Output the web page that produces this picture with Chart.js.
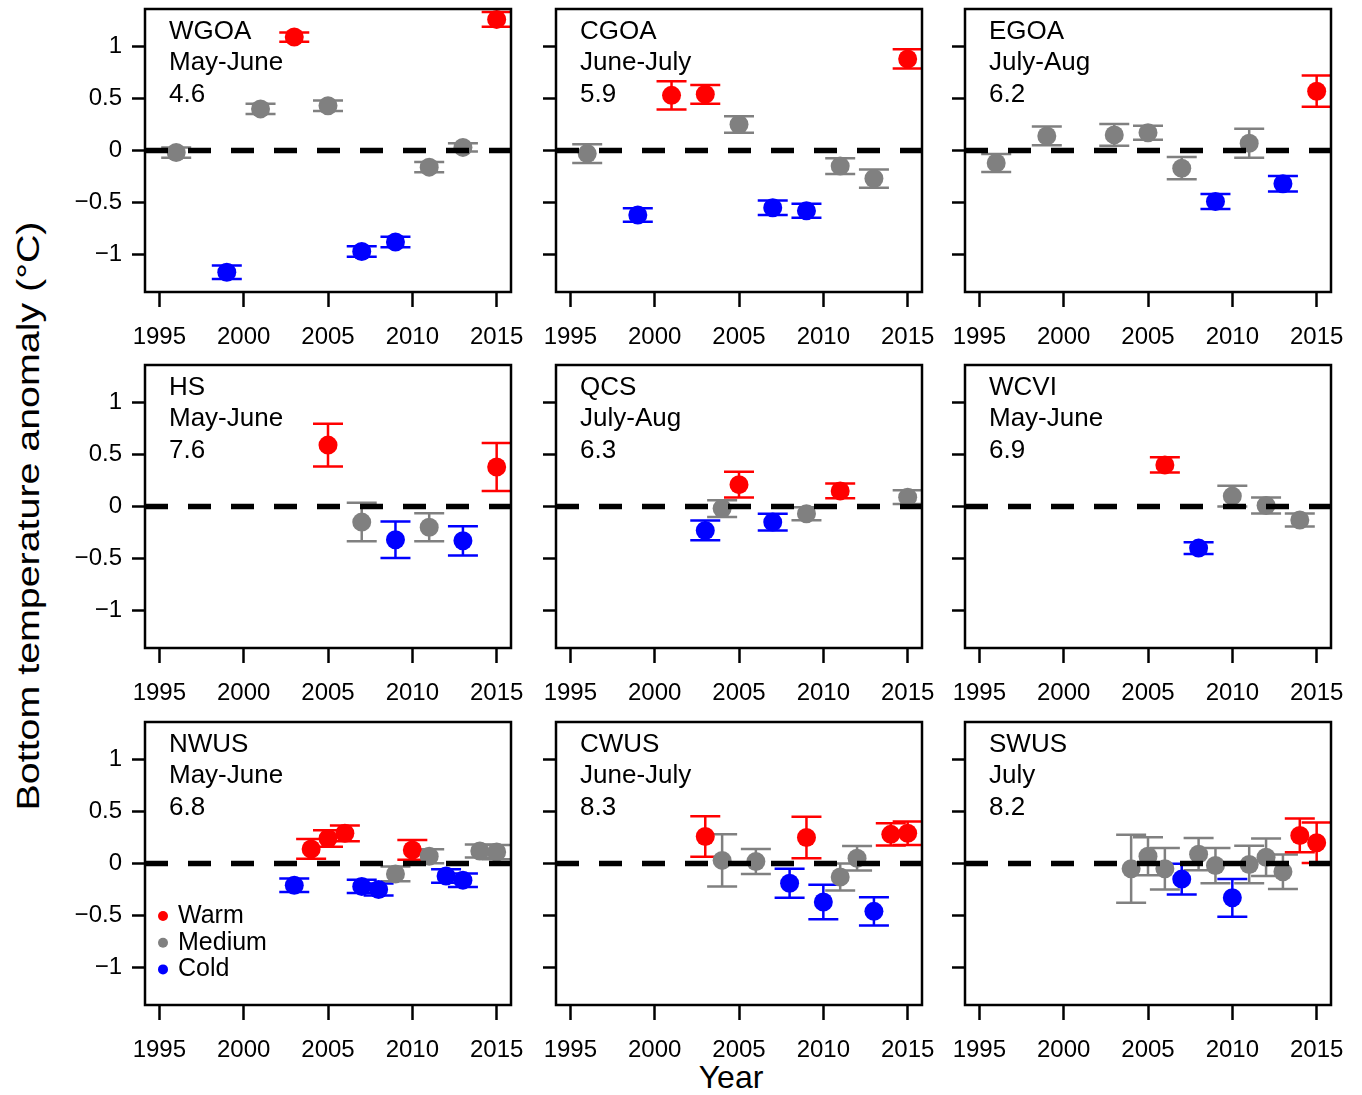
<!DOCTYPE html>
<html>
<head>
<meta charset="utf-8">
<script src="https://cdn.jsdelivr.net/npm/chart.js@4.4.1/dist/chart.umd.min.js"></script>
<style>
  body { margin: 0; background: #fff; width: 1362px; height: 1095px; position: relative; overflow: hidden;
         font-family: "Liberation Sans", Arial, sans-serif; }
  .panel { position: absolute; }
  .axis-title { position: absolute; white-space: nowrap; font-size: 32px; line-height: 1; color: #000;
                transform: translate(-50%, -50%); }
</style>
</head>
<body>
<div class="axis-title" style="left:28px; top:516px; transform: translate(-50%,-50%) rotate(-90deg) scaleX(1.23);">Bottom temperature anomaly (°C)</div>
<div class="axis-title" style="left:731px; top:1077px;">Year</div>
<script>
// panel labels
const regions = ['WGOA', 'CGOA', 'EGOA', 'HS', 'QCS', 'WCVI', 'NWUS', 'CWUS', 'SWUS'];
const seasons = ['May-June', 'June-July', 'July-Aug', 'May-June', 'July-Aug', 'May-June', 'May-June', 'June-July', 'July'];
const meanTemps = ['4.6', '5.9', '6.2', '7.6', '6.3', '6.9', '6.8', '8.3', '8.2'];

const yearTicks = [1995, 2000, 2005, 2010, 2015];
const anomalyTicks = [-1, -0.5, 0, 0.5, 1];
const classLabels = ['Warm', 'Medium', 'Cold'];

// W = warm, M = medium, C = cold
const wgoaYears = [1996, 1999, 2001, 2003, 2005, 2007, 2009, 2011, 2013, 2015];
const wgoaValues = [-0.02, -1.17, 0.40, 1.09, 0.43, -0.97, -0.88, -0.16, 0.03, 1.26];
const wgoaErr = [0.05, 0.065, 0.05, 0.045, 0.05, 0.05, 0.05, 0.05, 0.04, 0.07];
const wgoaClass = ['M', 'C', 'M', 'W', 'M', 'C', 'C', 'M', 'M', 'W'];

const cgoaYears = [1996, 1999, 2001, 2003, 2005, 2007, 2009, 2011, 2013, 2015];
const cgoaValues = [-0.03, -0.62, 0.53, 0.54, 0.25, -0.55, -0.58, -0.15, -0.27, 0.88];
const cgoaErr = [0.09, 0.065, 0.135, 0.09, 0.08, 0.07, 0.067, 0.075, 0.087, 0.093];
const cgoaClass = ['M', 'C', 'W', 'W', 'M', 'C', 'C', 'M', 'M', 'W'];

const egoaYears = [1996, 1999, 2003, 2005, 2007, 2009, 2011, 2013, 2015];
const egoaValues = [-0.12, 0.14, 0.15, 0.17, -0.17, -0.49, 0.07, -0.32, 0.57];
const egoaErr = [0.087, 0.09, 0.104, 0.067, 0.107, 0.072, 0.14, 0.075, 0.15];
const egoaClass = ['M', 'M', 'M', 'M', 'M', 'C', 'M', 'C', 'W'];

const hsYears = [2005, 2007, 2009, 2011, 2013, 2015];
const hsValues = [0.59, -0.15, -0.32, -0.20, -0.33, 0.38];
const hsErr = [0.206, 0.185, 0.176, 0.135, 0.14, 0.23];
const hsClass = ['W', 'M', 'C', 'M', 'C', 'W'];

const qcsYears = [2003, 2004, 2005, 2007, 2009, 2011, 2015];
const qcsValues = [-0.23, -0.02, 0.21, -0.15, -0.07, 0.15, 0.09];
const qcsErr = [0.095, 0.08, 0.123, 0.08, 0.063, 0.07, 0.066];
const qcsClass = ['C', 'M', 'W', 'C', 'M', 'W', 'M'];

const wcviYears = [2006, 2008, 2010, 2012, 2014];
const wcviValues = [0.40, -0.40, 0.10, 0.01, -0.13];
const wcviErr = [0.073, 0.056, 0.1, 0.077, 0.063];
const wcviClass = ['W', 'C', 'M', 'M', 'M'];

const nwusYears = [2003, 2004, 2005, 2006, 2007, 2008, 2009, 2010, 2011, 2012, 2013, 2014, 2015];
const nwusValues = [-0.21, 0.14, 0.24, 0.29, -0.22, -0.25, -0.10, 0.13, 0.07, -0.12, -0.16, 0.12, 0.11];
const nwusErr = [0.065, 0.095, 0.08, 0.076, 0.063, 0.057, 0.07, 0.095, 0.068, 0.065, 0.065, 0.063, 0.068];
const nwusClass = ['C', 'W', 'W', 'W', 'C', 'C', 'M', 'W', 'M', 'C', 'C', 'M', 'M'];

const cwusYears = [2003, 2004, 2006, 2008, 2009, 2010, 2011, 2012, 2013, 2014, 2015];
const cwusValues = [0.26, 0.03, 0.02, -0.19, 0.25, -0.37, -0.13, 0.05, -0.46, 0.28, 0.29];
const cwusErr = [0.195, 0.25, 0.12, 0.14, 0.2, 0.166, 0.13, 0.117, 0.136, 0.107, 0.113];
const cwusClass = ['W', 'M', 'M', 'C', 'W', 'C', 'M', 'M', 'C', 'W', 'W'];

const swusYears = [2004, 2005, 2006, 2007, 2008, 2009, 2010, 2011, 2012, 2013, 2014, 2015];
const swusValues = [-0.05, 0.07, -0.05, -0.15, 0.09, -0.02, -0.33, -0.01, 0.06, -0.08, 0.27, 0.20];
const swusErr = [0.327, 0.183, 0.2, 0.147, 0.155, 0.17, 0.182, 0.18, 0.18, 0.166, 0.163, 0.194];
const swusClass = ['M', 'M', 'M', 'C', 'M', 'M', 'C', 'M', 'M', 'M', 'W', 'W'];

const panelYears = [wgoaYears, cgoaYears, egoaYears, hsYears, qcsYears, wcviYears, nwusYears, cwusYears, swusYears];
const panelValues = [wgoaValues, cgoaValues, egoaValues, hsValues, qcsValues, wcviValues, nwusValues, cwusValues, swusValues];
const panelErr = [wgoaErr, cgoaErr, egoaErr, hsErr, qcsErr, wcviErr, nwusErr, cwusErr, swusErr];
const panelClass = [wgoaClass, cgoaClass, egoaClass, hsClass, qcsClass, wcviClass, nwusClass, cwusClass, swusClass];

const classColors = { W: '#ff0000', M: '#808080', C: '#0000ff' };
const legendColors = ['#ff0000', '#808080', '#0000ff'];

const fontFamily = '"Liberation Sans", Arial, sans-serif';
const xMin = 1994.15, xMax = 2015.85;
const yMin = -1.36, yMax = 1.36;

// where each plot box sits on the page
const colLeft = [145, 556, 965];
const rowTop = [9, 365, 722];
const boxW = 366, boxH = 283;
const padL = 70, padT = 30, padR = 40, padB = 60;

function makeDecor(i) {
    return {
        id: 'decor' + i,
        beforeDatasetsDraw(chart) {
            // error bars under the points
            const ctx = chart.ctx, a = chart.chartArea;
            const xs = chart.scales.x, ys = chart.scales.y;
            ctx.save();
            ctx.beginPath();
            ctx.rect(a.left, a.top, a.right - a.left, a.bottom - a.top);
            ctx.clip();
            ctx.lineWidth = 2.5;
            panelYears[i].forEach(function (yr, j) {
                const v = panelValues[i][j], e = panelErr[i][j];
                const px = xs.getPixelForValue(yr);
                const lo = ys.getPixelForValue(v - e);
                const hi = ys.getPixelForValue(v + e);
                ctx.strokeStyle = classColors[panelClass[i][j]];
                ctx.beginPath();
                ctx.moveTo(px, lo); ctx.lineTo(px, hi);
                ctx.moveTo(px - 15, lo); ctx.lineTo(px + 15, lo);
                ctx.moveTo(px - 15, hi); ctx.lineTo(px + 15, hi);
                ctx.stroke();
            });
            ctx.restore();
        },
        afterDraw(chart) {
            const ctx = chart.ctx, a = chart.chartArea;
            ctx.save();
            ctx.strokeStyle = '#000';
            ctx.lineWidth = 2.5;
            ctx.strokeRect(a.left, a.top, a.right - a.left, a.bottom - a.top);

            ctx.fillStyle = '#000';
            ctx.font = '26px ' + fontFamily;
            ctx.textBaseline = 'middle';
            ctx.textAlign = 'left';
            [regions[i], seasons[i], meanTemps[i]].forEach(function (t, k) {
                ctx.fillText(t, a.left + 24, a.top + 22.5 + k * 31.5);
            });

            if (i === 6) {
                ctx.font = '25px ' + fontFamily;
                classLabels.forEach(function (lab, k) {
                    const cy = a.top + 194 + k * 26.7;
                    ctx.fillStyle = legendColors[k];
                    ctx.beginPath();
                    ctx.arc(a.left + 18, cy, 5, 0, Math.PI * 2);
                    ctx.fill();
                    ctx.fillStyle = '#000';
                    ctx.fillText(lab, a.left + 33, cy);
                });
            }
            ctx.restore();
        }
    };
}

for (let i = 0; i < 9; i++) {
    const row = Math.floor(i / 3), col = i % 3;
    const wrap = document.createElement('div');
    wrap.className = 'panel';
    wrap.style.left = (colLeft[col] - padL) + 'px';
    wrap.style.top = (rowTop[row] - padT) + 'px';
    wrap.style.width = (boxW + padL + padR) + 'px';
    wrap.style.height = (boxH + padT + padB) + 'px';
    const canvas = document.createElement('canvas');
    wrap.appendChild(canvas);
    document.body.appendChild(wrap);

    const points = panelYears[i].map(function (yr, j) {
        return { x: yr, y: panelValues[i][j] };
    });

    new Chart(canvas, {
        type: 'scatter',
        data: {
            datasets: [
                {
                    type: 'line',
                    data: [{ x: xMin, y: 0 }, { x: xMax, y: 0 }],
                    borderColor: '#000',
                    borderWidth: 5.5,
                    borderDash: [23, 20],
                    pointRadius: 0,
                    order: 0
                },
                {
                    data: points,
                    pointRadius: 9.5,
                    pointBackgroundColor: panelClass[i].map(function (c) { return classColors[c]; }),
                    pointBorderWidth: 0,
                    order: 1
                }
            ]
        },
        options: {
            responsive: true,
            maintainAspectRatio: false,
            animation: false,
            layout: { padding: { left: 0, top: padT, right: padR, bottom: 0 } },
            plugins: { legend: { display: false }, tooltip: { enabled: false } },
            scales: {
                x: {
                    type: 'linear',
                    min: xMin,
                    max: xMax,
                    afterBuildTicks: function (s) { s.ticks = yearTicks.map(function (v) { return { value: v }; }); },
                    afterFit: function (s) { s.height = padB; },
                    border: { display: false },
                    grid: { drawOnChartArea: false, tickLength: 15, tickColor: '#000', tickWidth: 2.5 },
                    ticks: {
                        color: '#000',
                        font: { size: 24, family: fontFamily },
                        padding: 16,
                        maxRotation: 0,
                        autoSkip: false,
                        callback: function (v) { return String(v); }
                    }
                },
                y: {
                    min: yMin,
                    max: yMax,
                    afterBuildTicks: function (s) { s.ticks = anomalyTicks.map(function (v) { return { value: v }; }); },
                    afterFit: function (s) { s.width = padL; },
                    border: { display: false },
                    grid: { drawOnChartArea: false, tickLength: 13, tickColor: '#000', tickWidth: 2.5 },
                    ticks: {
                        display: col === 0,
                        color: '#000',
                        font: { size: 24, family: fontFamily },
                        padding: 10,
                        callback: function (v) { return v < 0 ? '\u2212' + Math.abs(v) : String(v); }
                    }
                }
            }
        },
        plugins: [makeDecor(i)]
    });
}
</script>
</body>
</html>
